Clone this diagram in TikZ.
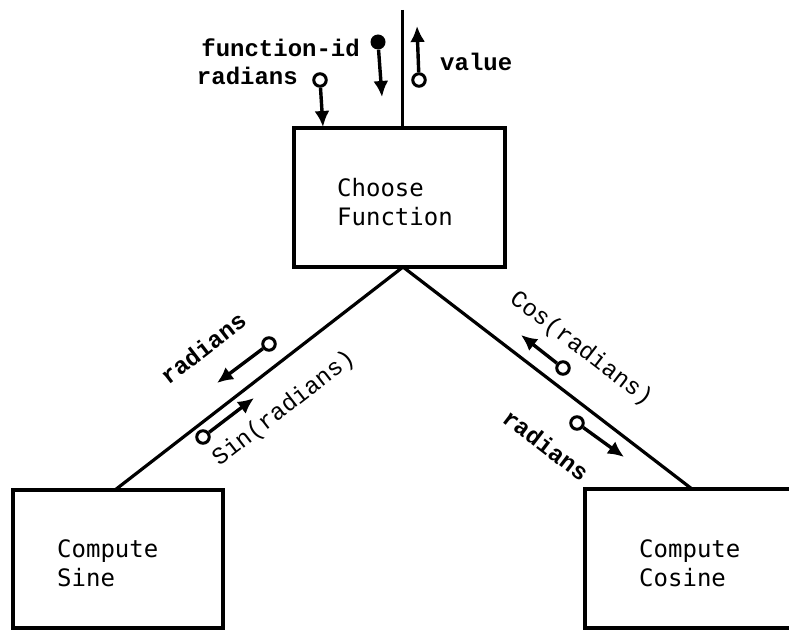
\documentclass[tikz,border=0pt]{standalone}
\usepackage{fontspec}
\setmonofont{Liberation Mono}
\newfontfamily\boxfont{DejaVu Sans Mono}
\usetikzlibrary{arrows.meta}
\begin{document}
\begin{tikzpicture}[x=1pt,y=-1pt,
  blockbox/.style={draw,line width=3.6pt,inner sep=0pt,minimum width=#1},
  boxtext/.style={font=\boxfont\fontsize{24}{29}\selectfont,align=left,inner sep=0pt,anchor=west},
  conn/.style={line width=3.2pt},
  flow/.style={line width=3.4pt,-{Latex[length=16pt,width=15pt]}},
  odot/.style={circle,draw,line width=3pt,fill=white,minimum size=12.5pt,inner sep=0pt},
  fdot/.style={circle,fill,minimum size=15pt,inner sep=0pt},
  lbl/.style={font=\ttfamily\fontsize{24}{29}\selectfont,inner sep=0pt},
  blbl/.style={font=\ttfamily\bfseries\fontsize{24}{29}\selectfont,inner sep=0pt}]
\useasboundingbox (0,0) rectangle (789,631);
\clip (0,0) rectangle (789,631);

% process boxes
\node[blockbox=211pt,minimum height=139pt] (choose) at (399.5,197.5) {};
\node[blockbox=210pt,minimum height=138pt] (sine) at (118,559) {};
\node[blockbox=215pt,minimum height=139pt] (cosine) at (692.5,558.5) {};
\node[boxtext] (choosetxt) at (337,202.5) {Choose\\Function};
\node[boxtext] (sinetxt) at (57,563) {Compute\\Sine};
\node[boxtext] (cosinetxt) at (639,563) {Compute\\Cosine};

% connections
\coordinate (vtop) at (402.5,10);
\coordinate (apex) at (403,267);
\coordinate (sinetop) at (115,490);
\coordinate (costop) at (692,489);
\draw[conn] (vtop) -- (vtop |- choose.north);
\draw[conn] (apex) -- (sinetop);
\draw[conn] (apex) -- (costop);

% data flows at the top
\node[fdot] (fidot) at (378,42) {};
\coordinate (fitip) at (382,97);
\draw[flow] (fidot) -- (fitip);
\node[odot] (raddot) at (320,80) {};
\coordinate (radtip) at (323,127);
\draw[flow] (raddot) -- (radtip);
\node[odot] (valdot) at (419,80) {};
\coordinate (valtip) at (417,26);
\draw[flow] (valdot) -- (valtip);
\node[blbl,anchor=east] (fid) at (360,48) {function-id};
\node[blbl,anchor=east] (rad) at (298,76) {radians};
\node[blbl,anchor=west] (val) at (440,62) {value};

% data flows to Compute Sine
\node[odot] (lraddot) at (269,344) {};
\coordinate (lradtip) at (217,383);
\draw[flow] (lraddot) -- (lradtip);
\node[odot] (sindot) at (203,437) {};
\coordinate (sintip) at (254,398);
\draw[flow] (sindot) -- (sintip);
\node[blbl,rotate=37.75] (lrad) at (203,348) {radians};
\node[lbl,rotate=37.75] (sinval) at (284,409) {Sin(radians)};

% data flows to Compute Cosine
\node[odot] (cosdot) at (563,368) {};
\coordinate (costip) at (521,335);
\draw[flow] (cosdot) -- (costip);
\node[odot] (rraddot) at (577,423) {};
\coordinate (rradtip) at (624,457);
\draw[flow] (rraddot) -- (rradtip);
\node[lbl,rotate=-37.5] (cosval) at (581,349) {Cos(radians)};
\node[blbl,rotate=-37.5] (rrad) at (546,445) {radians};
\end{tikzpicture}
\end{document}
